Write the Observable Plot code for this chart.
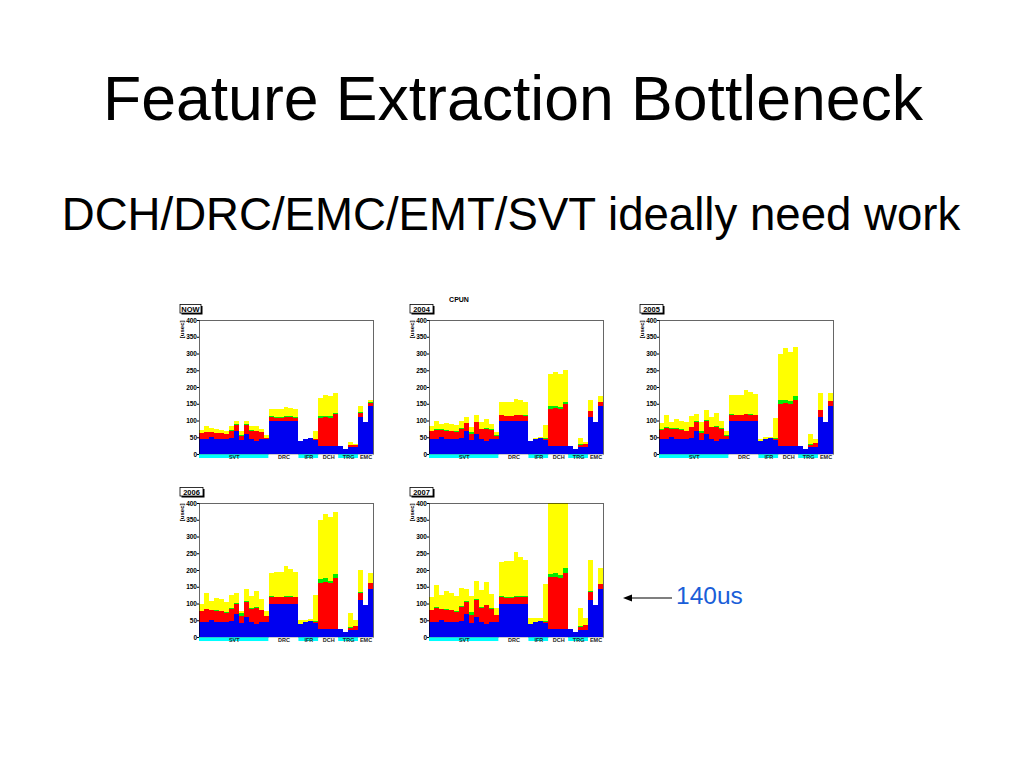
<!DOCTYPE html>
<html><head><meta charset="utf-8">
<script src="https://cdn.jsdelivr.net/npm/d3@7"></script>
<script src="https://cdn.jsdelivr.net/npm/@observablehq/plot@0.6"></script>
<style>
html,body{margin:0;padding:0;background:#fff;}
#slide{position:relative;width:1024px;height:768px;overflow:hidden;font-family:"Liberation Sans",Arial,Helvetica,sans-serif;}
#slide svg{position:absolute;}
</style></head><body><div id="slide"></div>
<script>
// ---- data ----
const groups = ["SVT","DRC","IFR","DCH","TRG","EMC"];
const groupBins = [14,6,4,4,4,3];
const groupFill = ["#00ffff","#ffffff","#00ffff","#ffffff","#00ffff","#ffffff"];
const yTicks = [0,50,100,150,200,250,300,350,400];
const panelNames = ["NOW","2004","2005","2006","2007"];

// cumulative stack tops per bin (blue common to all panels)
const blueTop = [45,46,50,45,45,44,48,68,41,60,46,40,44,44, 100,100,100,100,100,100, 38,46,48,42, 25,25,25,25, 25,16,20,22, 110,97,144];

const redNOW    = [63,66,66,63,63,60,70,88,55,88,70,68,66,48, 110,108,108,110,110,108, 38,46,48,45, 108,110,108,118, 25,16,26,26, 123,97,153];
const greenNOW  = [64,67,67,64,64,61,71,89,57,89,71,69,67,49, 112,110,110,112,112,110, 38,46,48,46, 112,114,112,122, 25,16,27,27, 124,97,154];
const yellowNOW = [71,83,78,76,73,68,83,98,68,98,83,83,76,58, 133,133,133,141,138,135, 38,46,48,68, 168,176,172,181, 25,16,36,31, 143,97,162];

const red2004    = [68,73,72,70,68,66,76,92,60,95,74,76,72,55, 115,112,112,115,115,113, 38,46,48,45, 135,138,133,148, 25,16,28,30, 128,97,155];
const green2004  = [70,75,74,72,70,68,78,94,65,97,76,78,74,57, 117,114,114,117,117,115, 38,46,48,47, 142,143,140,156, 25,16,29,31, 129,97,156];
const yellow2004 = [83,100,90,92,90,86,98,110,82,115,95,103,90,65, 155,155,155,165,160,155, 40,48,50,88, 238,245,240,252, 25,16,47,37, 160,97,172];

const red2005    = [73,78,75,75,72,68,80,97,62,100,80,82,75,55, 117,115,115,118,117,115, 38,46,48,45, 150,152,148,162, 25,16,28,32, 130,97,158];
const green2005  = [75,80,77,77,74,70,82,99,70,102,82,84,77,57, 119,117,117,120,119,117, 38,46,48,47, 160,162,158,172, 25,16,29,33, 131,97,159];
const yellow2005 = [93,117,97,104,100,97,112,119,95,130,110,122,100,68, 175,175,175,192,185,178, 45,50,52,108, 300,315,305,318, 25,16,60,45, 182,97,182];

const red2006    = [77,83,80,78,77,72,85,100,63,105,85,88,80,62, 120,118,118,120,120,118, 38,46,48,45, 162,165,160,177, 25,16,28,32, 132,97,160];
const green2006  = [79,85,82,80,79,74,87,102,72,107,87,90,82,64, 122,120,120,122,122,120, 38,46,48,47, 172,175,168,187, 25,16,29,33, 133,97,161];
const yellow2006 = [100,130,108,116,112,105,125,130,78,143,123,137,112,78, 192,195,193,212,203,195, 50,52,53,125, 350,368,358,372, 25,16,72,50, 200,97,192];

const red2007    = [80,88,83,82,80,75,90,105,65,110,88,95,85,65, 120,117,117,120,120,118, 40,46,48,45, 178,180,175,192, 25,16,30,35, 135,97,158];
const green2007  = [82,90,85,84,82,77,92,107,75,112,90,97,87,67, 123,120,120,123,123,121, 40,46,48,48, 188,192,185,205, 25,16,32,36, 136,97,159];
const yellow2007 = [118,155,125,137,132,122,145,143,122,168,140,165,128,88, 225,228,228,255,240,230, 57,57,58,158, 420,420,420,420, 25,16,88,58, 230,97,205];

const stacks = [
  [redNOW, greenNOW, yellowNOW],
  [red2004, green2004, yellow2004],
  [red2005, green2005, yellow2005],
  [red2006, green2006, yellow2006],
  [red2007, green2007, yellow2007]
];

// ---- layout ----
const slide = document.getElementById("slide");
const nBins = blueTop.length;
const ends = Array.from(d3.cumsum(groupBins));
const bands = groups.map((g, k) => ({name: g, start: ends[k] - groupBins[k], end: ends[k], fill: groupFill[k]}));
const panelPos = [[170,298],[400,298],[630,298],[170,481],[400,481]];
const font = "Liberation Sans, Arial, Helvetica, sans-serif";

function makePanel(k) {
  const [red, green, yellow] = stacks[k];
  const rows = blueTop.map((b, i) => ({i, j: i + 1, blue: b, red: red[i], green: green[i], yellow: yellow[i]}));
  const layer = (key, color) => Plot.rectY(rows, {x1: "i", x2: "j", y1: 0, y2: key, fill: color, clip: true, shapeRendering: "crispEdges"});
  return Plot.plot({
    width: 207, height: 166,
    marginLeft: 29, marginRight: 4, marginTop: 22, marginBottom: 10,
    x: {domain: [0, nBins], axis: null},
    y: {domain: [0, 400], axis: null},
    style: {background: "transparent", overflow: "visible", fontFamily: font},
    marks: [
      layer("yellow", "#ffff00"),
      layer("green", "#00ee00"),
      layer("red", "#ff0000"),
      layer("blue", "#0000f0"),
      Plot.frame({stroke: "#000", strokeWidth: 0.6}),
      Plot.axisY({ticks: yTicks, tickSize: 2, tickPadding: 0.5, fontSize: 6.5, fontWeight: "bold", label: null, tickFormat: d => d}),
      Plot.rect(bands, {x1: "start", x2: "end", y1: -1, y2: -12, fill: "fill"}),
      Plot.text(bands, {x: d => (d.start + d.end) / 2, y: -7, text: "name", fontSize: 5.5, fontWeight: "bold", fill: "#222"}),
      Plot.text(["[usec]"], {frameAnchor: "top-left", dx: -20, rotate: -90, textAnchor: "end", text: d => d, fontSize: 6, fontWeight: "bold"})
    ]
  });
}

panelNames.forEach((name, k) => {
  const svg = makePanel(k);
  svg.style.left = panelPos[k][0] + "px";
  svg.style.top = panelPos[k][1] + "px";
  slide.appendChild(svg);
});

// ---- overlay: titles, tags, annotation ----
const ns = "http://www.w3.org/2000/svg";
const ov = document.createElementNS(ns, "svg");
ov.setAttribute("width", 1024); ov.setAttribute("height", 768);
ov.style.left = "0px"; ov.style.top = "0px"; ov.style.pointerEvents = "none";
let html = "";
html += `<text x="513" y="120" text-anchor="middle" font-family="${font}" font-size="62.5" fill="#000">Feature Extraction Bottleneck</text>`;
html += `<text x="511" y="230" text-anchor="middle" font-family="${font}" font-size="45.6" fill="#000">DCH/DRC/EMC/EMT/SVT ideally need work</text>`;
html += `<text x="459" y="302" text-anchor="middle" font-family="${font}" font-size="7" font-weight="bold" fill="#000">CPUN</text>`;
panelNames.forEach((name, k) => {
  const [px, py] = panelPos[k];
  const w = name.length > 3 ? 23 : 21;
  const x = px + 10, y = py + 6.5;
  html += `<rect x="${x + 1.5}" y="${y + 1.5}" width="${w}" height="8.5" fill="#000"/>`;
  html += `<rect x="${x}" y="${y}" width="${w}" height="8.5" fill="#fff" stroke="#000" stroke-width="0.8"/>`;
  html += `<text x="${x + w / 2}" y="${y + 7}" text-anchor="middle" font-family="${font}" font-size="7.5" font-weight="bold" fill="#000">${name}</text>`;
});
html += `<line x1="672" y1="598" x2="629" y2="598" stroke="#000" stroke-width="1.2"/>`;
html += `<polygon points="623,598 632,594.5 632,601.5" fill="#000"/>`;
html += `<text x="676" y="604" font-family="${font}" font-size="24.5" fill="#1a5ed8">140us</text>`;
ov.innerHTML = html;
slide.appendChild(ov);
</script></body></html>
